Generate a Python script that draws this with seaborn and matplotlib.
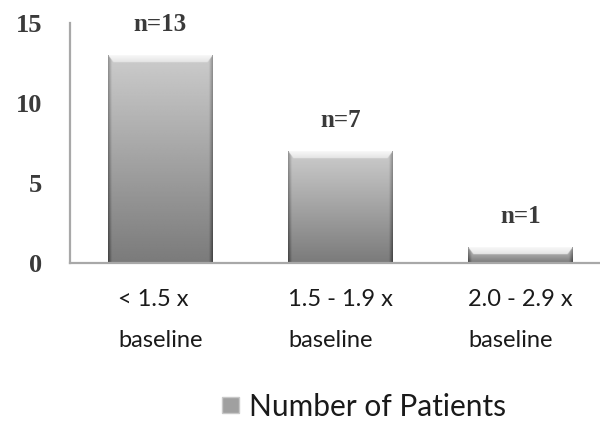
import numpy as np
import pandas as pd
import seaborn as sns
import matplotlib.pyplot as plt
from matplotlib.patches import Patch

categories = ['< 1.5 x\nbaseline', '1.5 - 1.9 x\nbaseline', '2.0 - 2.9 x\nbaseline']
patients = [13, 7, 1]
bar_labels = ['n=13', 'n=7', 'n=1']
y_ticks = [0, 5, 10, 15]
legend_label = 'Number of Patients'

df = pd.DataFrame({'group': categories, 'patients': patients})

sns.set_style('white')
plt.rcParams['font.family'] = ['Lato', 'DejaVu Sans']

fig = plt.figure(figsize=(6, 4.23), dpi=100)
ax = fig.add_axes([0.1167, 0.378, 0.8833, 0.567])

sns.barplot(data=df, x='group', y='patients', color='#9a9a9a', width=0.58,
            saturation=1, ax=ax)

ax.set_xlim(-0.5, 2.44)
ax.set_ylim(0, 15)
ax.set_yticks(y_ticks)

# gradient fill for each bar, clipped to the bar rectangle
res = 40  # rows per data unit
for p in ax.patches:
    x0, w, h = p.get_x(), p.get_width(), p.get_height()
    rows = int(h * res)
    t = np.linspace(0, 1, rows)[:, None]        # 0 top, 1 bottom
    s = np.linspace(-1, 1, 120)[None, :]
    img = 0.80 - 0.32 * t + 0 * s
    edge = np.clip((np.abs(s) - 0.93) / 0.07, 0, 1)
    img = img - 0.22 * edge
    bevel = int(0.45 * res)
    for r in range(bevel):
        frac = r / bevel
        inside = np.abs(s[0]) < 1 - 0.1 * frac
        img[r, inside] = 0.97 - 0.08 * frac
    ax.imshow(img, cmap='gray', vmin=0, vmax=1, aspect='auto',
              extent=(x0, x0 + w, 0, h), origin='upper', zorder=3,
              clip_path=p, interpolation='bilinear')
    p.set_edgecolor('none')

ax.bar_label(ax.containers[0], labels=bar_labels, padding=14,
             fontsize=18, fontweight='bold', color='#3a3a3a',
             family='Liberation Serif', zorder=5)

sns.despine(ax=ax)
for side in ['left', 'bottom']:
    ax.spines[side].set_color('#a8a8a8')
    ax.spines[side].set_linewidth(1.6)
    ax.spines[side].set_zorder(4)

ax.set_xlabel('')
ax.set_ylabel('')
ax.tick_params(axis='both', length=0)
ax.tick_params(axis='y', pad=20)
ax.tick_params(axis='x', pad=19)
for lab in ax.get_yticklabels():
    lab.set_family('Liberation Serif')
    lab.set_fontweight('bold')
    lab.set_fontsize(19)
    lab.set_color('#3a3a3a')
for lab in ax.get_xticklabels():
    lab.set_fontsize(17)
    lab.set_color('#1a1a1a')
    lab.set_linespacing(2.15)
    lab.set_multialignment('left')

handle = Patch(facecolor='#a0a0a0', edgecolor='#c8c8c8')
fig.legend([handle], [legend_label], loc='center', bbox_to_anchor=(0.607, 0.038),
           frameon=False, fontsize=21.5, handlelength=0.55, handleheight=0.45,
           handletextpad=0.35, labelcolor='#1a1a1a')

fig.savefig('out.png', dpi=100)
